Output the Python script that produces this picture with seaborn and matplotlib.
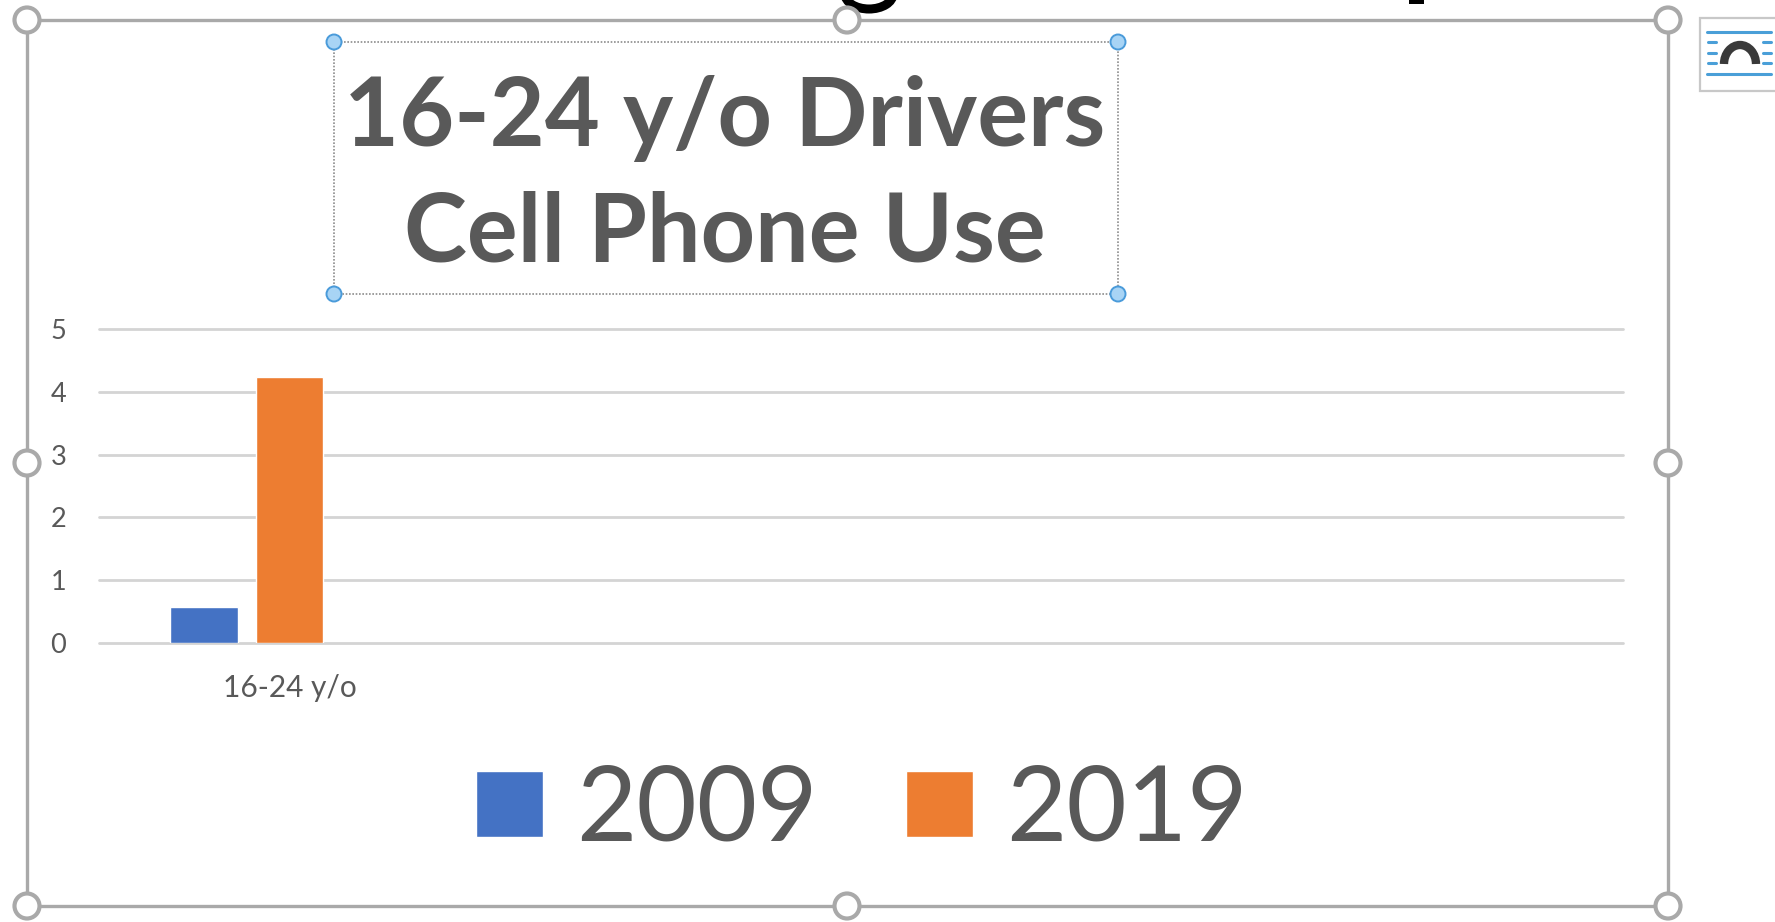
import matplotlib
matplotlib.use("Agg")
import matplotlib.pyplot as plt
from matplotlib.patches import Circle, Rectangle, Arc
import pandas as pd
import seaborn as sns

# --- data -------------------------------------------------------------
TITLE = "16-24 y/o Drivers\nCell Phone Use"
categories = ["16-24 y/o", " ", "  ", "   "]
category_labels = ["16-24 y/o", "", "", ""]
years = ["2009", "2019", "(empty)"]
values_2009 = [0.58]
values_2019 = [4.23]
y_ticks = [0, 1, 2, 3, 4, 5]
colors = ["#4472C4", "#ED7D31", "#A5A5A5"]

df = pd.DataFrame({
    "category": [categories[0], categories[0]],
    "year": years[:2],
    "value": values_2009 + values_2019,
})

# --- style ------------------------------------------------------------
W, H = 1775, 922
TXT = "#595959"
sns.set_theme(style="whitegrid")
plt.rcParams["font.family"] = ["Lato", "DejaVu Sans"]
fig = plt.figure(figsize=(W / 100, H / 100), dpi=100, facecolor="white")
ax = fig.add_axes([99 / W, 1 - 643 / H, (1623 - 99) / W, (643 - 329) / H])
ax.set_facecolor("white")

sns.barplot(
    data=df, x="category", y="value", hue="year", order=categories,
    hue_order=years, palette=dict(zip(years, colors)), width=0.6735, gap=0.21,
    saturation=1, legend=True, ax=ax,
)
ax.set_xlim(-0.5, 3.5)
ax.set_ylim(0, 5)
ax.set_yticks(y_ticks)
ax.set_xticks(range(len(categories)))
ax.set_xticklabels(category_labels)
ax.set_xlabel("")
ax.set_ylabel("")
ax.set_axisbelow(True)
ax.grid(axis="y", color="#D4D4D4", lw=2.0)
ax.grid(axis="x", visible=False)
for s in ax.spines.values():
    s.set_visible(False)
ax.tick_params(axis="y", length=0, pad=23.5, labelsize=19.5, labelcolor=TXT)
ax.tick_params(axis="x", length=0, pad=22, labelsize=21.5, labelcolor=TXT)
for line in ax.get_ygridlines():
    line.set_clip_on(False)

ax.set_title(TITLE, x=(725 - 99) / (1623 - 99), pad=48.5, fontsize=68.5,
             fontweight="bold", color=TXT, linespacing=1.40)

handles, labels = ax.get_legend_handles_labels()
ax.legend(handles[:2], labels[:2], loc="center", ncol=2, frameon=False,
          bbox_to_anchor=(862 / W, 1 - 811 / H), bbox_transform=fig.transFigure,
          fontsize=75, labelcolor=TXT, handlelength=0.64, handleheight=0.60,
          handletextpad=0.32, columnspacing=0.85, borderpad=0, borderaxespad=0)

# --- editor selection overlay (pixel coordinates) ------------------------
ov = fig.add_axes([0, 0, 1, 1], zorder=5)
ov.set_xlim(0, W)
ov.set_ylim(H, 0)
ov.axis("off")
ov.patch.set_alpha(0)

GRAY = "#A9A9A9"
L, R, T, B = 27, 1668, 20, 906
ov.add_patch(Rectangle((L, T), R - L, B - T, fill=False, ec=GRAY, lw=2.4))
for hx, hy in [(L, T), (847, T), (R, T), (L, 463), (R, 463), (L, B), (847, B), (R, B)]:
    ov.add_patch(Circle((hx, hy), 12.5, fc="white", ec=GRAY, lw=3, zorder=3))

tl, tr, tt, tb = 334, 1118, 42, 294
ov.add_patch(Rectangle((tl, tt), tr - tl, tb - tt, fill=False, ec="#8C8C8C",
                       lw=1.2, ls=(0, (1, 1))))
for hx, hy in [(tl, tt), (tr, tt), (tl, tb), (tr, tb)]:
    ov.add_patch(Circle((hx, hy), 7.5, fc="#A8D4F5", ec="#4A9BDA", lw=1.4, zorder=3))

# layout-options icon
ov.add_patch(Rectangle((1700, 18), 90, 73, fc="white", ec="#C8C8C8", lw=1.6))
BLUE = "#4A9FD8"
ov.plot([1707, 1771], [32, 32], color=BLUE, lw=2.2)
ov.plot([1707, 1771], [74, 74], color=BLUE, lw=2.2)
for yy in (42, 53, 63):
    ov.plot([1708, 1716], [yy, yy], color=BLUE, lw=2.2)
    ov.plot([1763, 1771], [yy, yy], color=BLUE, lw=2.2)
ov.add_patch(Arc((1740, 64), 32, 38, theta1=180, theta2=360, ec="#3A3A3A", lw=6))

# cropped slide text above the chart
ov.add_patch(Arc((869, -6), 48, 30, theta1=0, theta2=180, ec="black", lw=6.5))
ov.add_patch(Rectangle((1409, 0), 15, 4, fc="black", ec="none"))

fig.savefig("out.png", dpi=100, facecolor="white")
